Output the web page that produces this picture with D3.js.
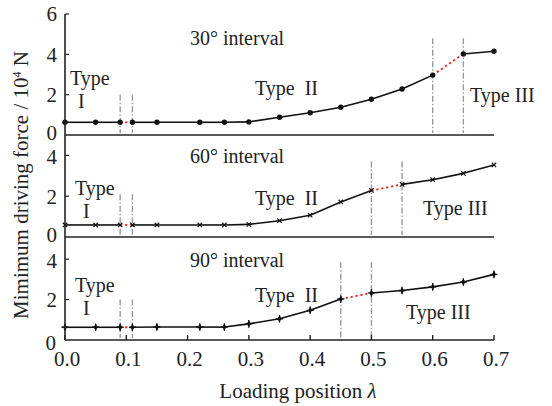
<!DOCTYPE html>
<html><head><meta charset="utf-8">
<script src="https://cdn.jsdelivr.net/npm/d3@7"></script>
<style>body{margin:0;background:#fff}svg{display:block}</style>
</head><body>
<svg id="c" width="552" height="406" font-family="'Liberation Serif', 'Times New Roman', Times, serif"></svg>
<script>
// ---- data ----
const positions = [0,0.05,0.09,0.11,0.15,0.22,0.26,0.30,0.35,0.40,0.45,0.50,0.55,0.60,0.65,0.70];
const force30 = [0.63,0.63,0.63,0.63,0.63,0.63,0.63,0.65,0.88,1.10,1.38,1.77,2.28,2.97,4.02,4.15];
const force60 = [0.59,0.59,0.59,0.59,0.59,0.59,0.59,0.62,0.80,1.07,1.72,2.28,2.58,2.81,3.12,3.53];
const force90 = [0.63,0.63,0.63,0.63,0.64,0.64,0.64,0.80,1.05,1.47,2.03,2.33,2.45,2.63,2.87,3.25];
const panelTitles = ["30\u00b0 interval","60\u00b0 interval","90\u00b0 interval"];
// transition (red dotted) segments given by start index
const transitions30 = [2,13];
const transitions60 = [2,11];
const transitions90 = [2,10];
// boundary guide lines: [position, top value]
const guides30 = [[0.09,2.0],[0.11,2.0],[0.60,4.8],[0.65,4.8]];
const guides60 = [[0.09,2.1],[0.11,2.1],[0.50,3.7],[0.55,3.7]];
const guides90 = [[0.09,2.0],[0.11,2.0],[0.45,3.85],[0.50,3.85]];
const xTicks = [0,0.1,0.2,0.3,0.4,0.5,0.6,0.7];
const yTicks = [0,2,4,6];

const svg = d3.select("#c");
const x = d3.scaleLinear().domain([0,0.7]).range([65,494]);

const panels = [
  {vals:force30, tr:transitions30, g:guides30, y:d3.scaleLinear().domain([0,6]).range([135,14]), marker:"dot",
   title:panelTitles[0], tb:45, typeI:[70,85,78,108], typeII:[255,95], typeIII:[470,102]},
  {vals:force60, tr:transitions60, g:guides60, y:d3.scaleLinear().domain([0,5]).range([237,135]), marker:"x",
   title:panelTitles[1], tb:163, typeI:[75,195,83,218], typeII:[255,205], typeIII:[423,215]},
  {vals:force90, tr:transitions90, g:guides90, y:d3.scaleLinear().domain([0,5]).range([340,239]), marker:"star",
   title:panelTitles[2], tb:267, typeI:[75,292,83,315], typeII:[255,302], typeIII:[406,319]}
];

const fs = 20;
const tc = "#222";
panels.forEach((p,pi)=>{
  const g = svg.append("g");
  const y = p.y;
  g.append("line").attr("x1",x(0)).attr("x2",x(0.7)).attr("y1",y(0)).attr("y2",y(0))
    .attr("stroke","#222").attr("stroke-width",1.6);
  const yt = yTicks.filter(t=>t<=y.domain()[1]);
  yt.forEach(t=>{
    if(t>0) g.append("line").attr("x1",x(0)).attr("x2",x(0)+4).attr("y1",y(t)).attr("y2",y(t)).attr("stroke","#222").attr("stroke-width",1.2);
    let dy = 0;
    if(t===0) dy = (pi===2) ? 3 : -2;
    if(t===4 && pi>0) dy = 1;
    g.append("text").attr("x",(pi===2&&t===0)?56:57).attr("y",y(t)+dy).attr("dy","0.35em").attr("text-anchor","end")
      .attr("font-size",fs+1).attr("fill",tc).text(t);
  });
  p.g.forEach(([px,top])=>{
    g.append("line").attr("x1",x(px)).attr("x2",x(px)).attr("y1",y(top)).attr("y2",y(0)-2)
      .attr("stroke","#9a9a9a").attr("stroke-width",1.4).attr("stroke-dasharray","6,2,1.5,2");
  });
  for(let i=0;i<positions.length-1;i++){
    const red = p.tr.includes(i);
    g.append("line").attr("x1",x(positions[i])).attr("y1",y(p.vals[i]))
      .attr("x2",x(positions[i+1])).attr("y2",y(p.vals[i+1]))
      .attr("stroke",red?"#e8231e":"#111").attr("stroke-width",red?1.8:1.6)
      .attr("stroke-dasharray",red?"2.2,2.8":null);
  }
  positions.forEach((px,i)=>{
    const cx=x(px), cy=y(p.vals[i]);
    if(p.marker==="dot"){
      g.append("circle").attr("cx",cx).attr("cy",cy).attr("r",2.7).attr("fill","#111");
    } else if(p.marker==="x"){
      const s=2.2;
      g.append("path").attr("d",`M${cx-s},${cy-s}L${cx+s},${cy+s}M${cx-s},${cy+s}L${cx+s},${cy-s}`)
        .attr("stroke","#111").attr("stroke-width",1.2);
    } else {
      g.append("path").attr("transform",`translate(${cx},${cy})`)
        .attr("d",d3.symbol(d3.symbolDiamond,14)()).attr("fill","#111");
      g.append("path").attr("d",`M${cx-3.5},${cy}L${cx+3.5},${cy}M${cx},${cy-3.8}L${cx},${cy+3.8}`)
        .attr("stroke","#111").attr("stroke-width",1.3);
    }
  });
  g.append("text").attr("x",190).attr("y",p.tb).attr("font-size",fs).attr("fill",tc).text(p.title);
  g.append("text").attr("x",p.typeI[0]).attr("y",p.typeI[1]).attr("font-size",fs).attr("fill",tc).text("Type");
  g.append("text").attr("x",p.typeI[2]).attr("y",p.typeI[3]).attr("font-size",fs).attr("fill",tc).text("I");
  g.append("text").attr("x",p.typeII[0]).attr("y",p.typeII[1]).attr("font-size",fs).attr("fill",tc).text("Type\u00a0\u00a0II");
  g.append("text").attr("x",p.typeIII[0]).attr("y",p.typeIII[1]).attr("font-size",fs).attr("fill",tc).text("Type III");
});

svg.append("line").attr("x1",x(0)).attr("x2",x(0)).attr("y1",14).attr("y2",340).attr("stroke","#222").attr("stroke-width",1.6);

const yb = panels[2].y;
xTicks.forEach(t=>{
  svg.append("line").attr("x1",x(t)).attr("x2",x(t)).attr("y1",yb(0)).attr("y2",yb(0)-5).attr("stroke","#222").attr("stroke-width",1.4);
  svg.append("text").attr("x",x(t)+2).attr("y",366).attr("text-anchor","middle").attr("font-size",fs+1).attr("fill",tc).text(t.toFixed(1));
});

svg.append("text").attr("x",298).attr("y",398).attr("text-anchor","middle").attr("font-size",fs+1).attr("fill",tc)
  .html('Loading position <tspan font-style="italic">\u03bb</tspan>');
svg.append("text").attr("transform","translate(28,185) rotate(-90)").attr("text-anchor","middle").attr("font-size",fs+1).attr("fill",tc)
  .html('Mimimum driving force / 10<tspan dy="-7" font-size="12">4</tspan><tspan dy="7"> N</tspan>');
</script>
</body></html>
